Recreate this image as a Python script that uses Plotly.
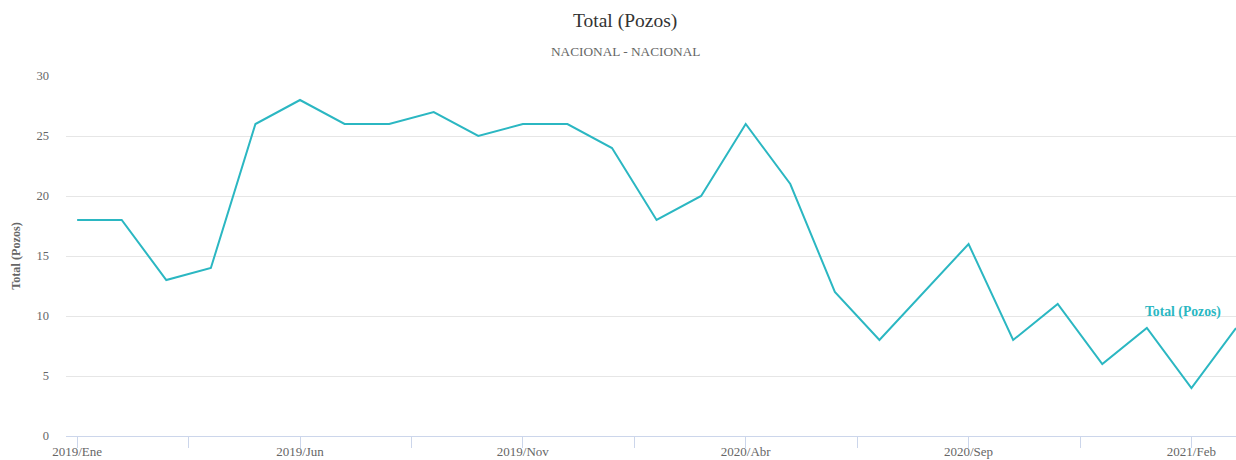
import plotly.graph_objects as go

months = ["2019/Ene","2019/Feb","2019/Mar","2019/Abr","2019/May","2019/Jun","2019/Jul","2019/Ago","2019/Sep","2019/Oct","2019/Nov","2019/Dic",
          "2020/Ene","2020/Feb","2020/Mar","2020/Abr","2020/May","2020/Jun","2020/Jul","2020/Ago","2020/Sep","2020/Oct","2020/Nov","2020/Dic",
          "2021/Ene","2021/Feb","2021/Mar"]
pozos = [18, 18, 13, 14, 26, 28, 26, 26, 27, 25, 26, 26, 24, 18, 20, 26, 21, 12, 8, 12, 16, 8, 11, 6, 9, 4, 9]
series_name = "Total (Pozos)"
title_text = "Total (Pozos)"
subtitle_text = "NACIONAL - NACIONAL"
color = "#2BB7C2"
serif = "Liberation Serif"

x = list(range(len(months)))
tickvals = [i * 2.5 for i in range(11)]
ticktext = [months[int(v)] if v == int(v) and int(v) % 5 == 0 else "" for v in tickvals]

fig = go.Figure()
fig.add_trace(go.Scatter(x=x, y=pozos, mode="lines", name=series_name,
                         line=dict(color=color, width=2), text=months,
                         hovertemplate="%{text}<br>%{y}<extra></extra>"))
# series label near the end of the line
fig.add_annotation(x=x[-1] - 0.3, y=pozos[-1] + 0.5, text="<b>" + series_name + "</b>", showarrow=False,
                   xanchor="right", yanchor="bottom",
                   font=dict(family=serif, size=13.7, color=color))
fig.add_annotation(xref="paper", yref="paper", x=0.4778, y=1.1528, text=title_text, showarrow=False,
                   xanchor="center", yanchor="middle",
                   font=dict(family=serif, size=19.5, color="#333333"))
fig.add_annotation(xref="paper", yref="paper", x=0.4778, y=1.0694, text=subtitle_text, showarrow=False,
                   xanchor="center", yanchor="middle",
                   font=dict(family=serif, size=13.3, color="#666666"))

fig.update_layout(
    width=1236, height=460,
    margin=dict(l=66, r=0, t=76, b=24),
    paper_bgcolor="white", plot_bgcolor="white",
    showlegend=False,
    font=dict(family=serif, color="#666666", size=12),
    xaxis=dict(range=[-0.25, 26], tickmode="array", tickvals=tickvals, ticktext=ticktext,
               showgrid=False, zeroline=False, showline=True, linecolor="#ccd6eb", linewidth=1,
               ticks="outside", ticklen=11, tickcolor="#ccd6eb", tickwidth=1,
               tickfont=dict(size=13, color="#666666"), ticklabelstandoff=-8, automargin=False),
    yaxis=dict(range=[0, 30], tickvals=[0, 5, 10, 15, 20, 25, 30], showgrid=True, gridcolor="#e6e6e6",
               zeroline=False, showline=False, ticks="", tickfont=dict(size=12.5, color="#666666"),
               ticklabelstandoff=16, automargin=False,
               title=dict(text="<b>Total (Pozos)</b>", standoff=13,
                          font=dict(family=serif, size=12.2, color="#666666"))),
)

fig.write_html("out.html", config={"displayModeBar": False},
               post_script="document.body.style.margin='0';document.body.style.padding='0';")
